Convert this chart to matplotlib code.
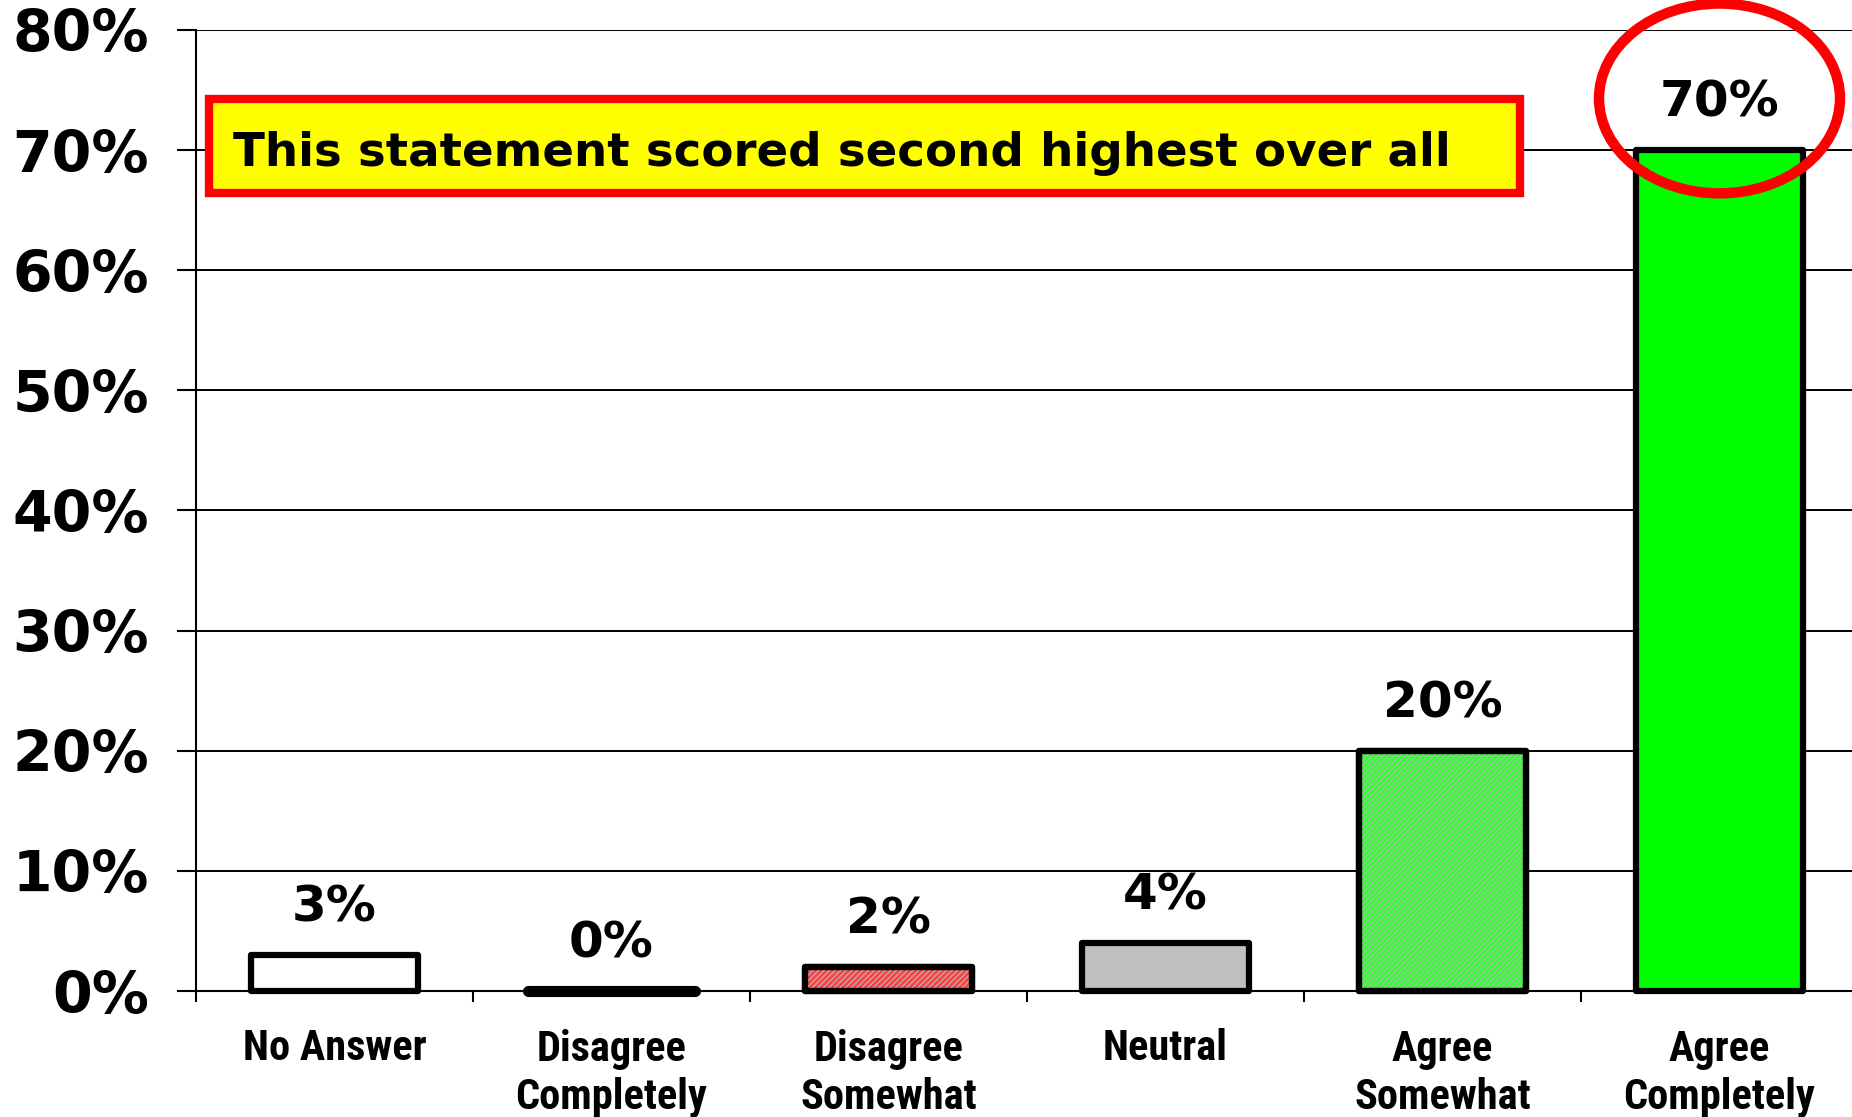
#Survey results bar chart - recreated with matplotlib

import numpy as np
import matplotlib.pyplot as plt
from matplotlib.patches import Ellipse, Rectangle

#DATOS
categories = ["No Answer", "Disagree\nCompletely", "Disagree\nSomewhat",
              "Neutral", "Agree\nSomewhat", "Agree\nCompletely"]
values = [3, 0, 2, 4, 20, 70]
valueLabels = ["3%", "0%", "2%", "4%", "20%", "70%"]
yTicks = [0, 10, 20, 30, 40, 50, 60, 70, 80]
yTickLabels = ["0%", "10%", "20%", "30%", "40%", "50%", "60%", "70%", "80%"]
barColors = ["#ffffff", "#ffffff", "#ff4040", "#c0c0c0", "#30ff30", "#00ff00"]
barHatches = [None, None, "//////", None, "//////", None]
note = "This statement scored second highest over all"

plt.rcParams['hatch.linewidth'] = 0.9

fig = plt.figure(figsize=(18.52, 11.17), dpi=100)
ax = fig.add_axes([196/1852, 1-991/1117, 1662/1852, 961/1117])

x = np.arange(len(categories))
barWidth = 0.6
#barras con borde negro grueso
ax.bar(x, values, width=barWidth, color=barColors, edgecolor="black",
       linewidth=4.5, zorder=3, joinstyle="round", clip_on=False)
for i in range(len(values)):
    #trama fina encima de las barras que la llevan
    if barHatches[i] is not None:
        ax.bar(x[i], values[i], width=barWidth, fill=False, hatch=barHatches[i],
               edgecolor="#b4b4b4", linewidth=0, zorder=3.5)
        ax.bar(x[i], values[i], width=barWidth, fill=False, edgecolor="black",
               linewidth=4.5, zorder=3.6, joinstyle="round", clip_on=False)
    #barra de 0% se ve como una linea gruesa
    if values[i] == 0:
        ax.hlines(values[i], x[i]-barWidth/2, x[i]+barWidth/2, color="black",
                  linewidth=8, zorder=3.7, capstyle="round", clip_on=False)

#etiquetas de valor
for i in range(len(values)):
    ax.annotate(valueLabels[i], (x[i], values[i]), xytext=(0, 24),
                textcoords="offset points", ha="center", va="baseline",
                fontsize=36, fontweight="bold", zorder=5)

ax.set_xlim(-0.5, 5.5)
ax.set_ylim(0, 80)
ax.set_yticks(yTicks)
ax.set_yticklabels(yTickLabels, fontsize=41, fontweight="bold")
ax.set_xticks(x)
ax.set_xticklabels(categories, fontsize=30.5, fontweight="bold",
                   family=["Roboto Condensed", "Roboto", "DejaVu Sans"],
                   fontstretch="condensed", linespacing=1.24, va="top")
ax.set_xticks(np.arange(-0.5, 6, 1), minor=True)
ax.tick_params(axis="x", which="major", length=0, pad=27)
ax.tick_params(axis="x", which="minor", length=8, width=1.5, direction="out")
ax.tick_params(axis="y", length=14, width=1.5, direction="out", pad=20)

ax.yaxis.grid(True, color="black", linewidth=1.4, zorder=0)
ax.set_axisbelow(True)
for side in ["top", "right"]:
    ax.spines[side].set_visible(False)
for side in ["left", "bottom"]:
    ax.spines[side].set_linewidth(1.5)

#cuadro amarillo con borde rojo
box = Rectangle((0.0078, 0.8304), 0.789, 0.0978, transform=ax.transAxes,
                facecolor="#ffff00", edgecolor="#ff0000", linewidth=6,
                zorder=6, clip_on=False)
ax.add_patch(box)
ax.text(0.0223, 0.8585, note, transform=ax.transAxes, ha="left",
        va="baseline", fontsize=33.7, fontweight="bold", zorder=7)

#elipse roja sobre la barra mas alta
ax.add_patch(Ellipse((x[5], 74.3), 0.87, 15.8, fill=False,
                     edgecolor="#ff0000", linewidth=7.5, zorder=8,
                     clip_on=False))

fig.savefig("out.png", dpi=100)
